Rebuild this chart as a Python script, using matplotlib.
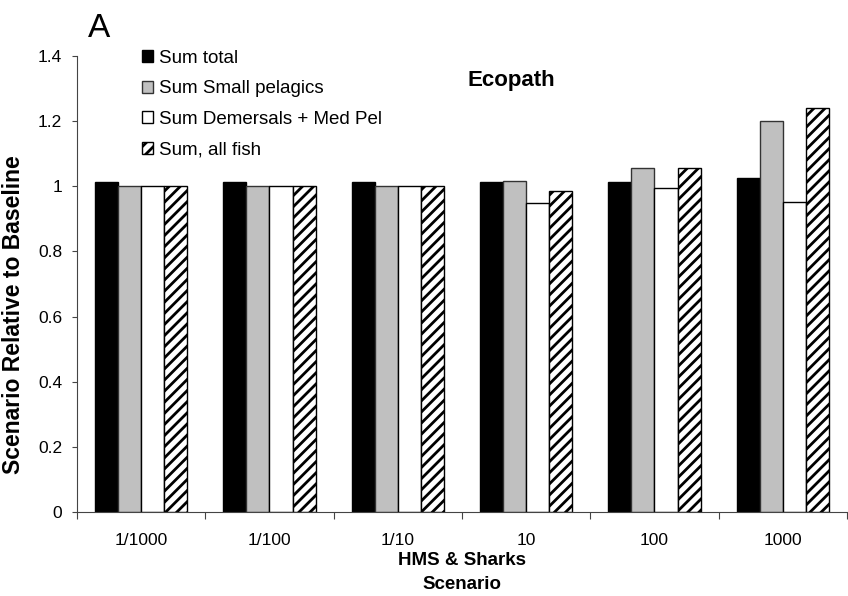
import matplotlib
matplotlib.use("Agg")
import matplotlib.pyplot as plt
import numpy as np

plt.rcParams['font.family'] = ['Liberation Sans', 'DejaVu Sans']
plt.rcParams['hatch.linewidth'] = 2.0

categories = ["1/1000", "1/100", "1/10", "10", "100", "1000"]
sum_total = [1.013, 1.013, 1.013, 1.014, 1.014, 1.026]
small_pelagics = [1.0, 1.0, 1.0, 1.017, 1.056, 1.201]
demersals_medpel = [1.0, 1.0, 1.0, 0.948, 0.996, 0.953]
all_fish = [1.0, 1.0, 1.0, 0.986, 1.056, 1.239]

series = [
    ("Sum total", sum_total, dict(color="black", edgecolor="black")),
    ("Sum Small pelagics", small_pelagics, dict(color="#C0C0C0", edgecolor="#333333")),
    ("Sum Demersals + Med Pel", demersals_medpel, dict(color="white", edgecolor="black")),
    ("Sum, all fish", all_fish, dict(color="white", edgecolor="black", hatch="///")),
]

fig = plt.figure(figsize=(8.48, 5.96), dpi=100)
ax = fig.add_axes([0.0908, 0.1409, 0.9080, 0.7651])

x = np.arange(len(categories))
w = 0.18
for i, (name, vals, st) in enumerate(series):
    ax.bar(x + (i - 1.5) * w, vals, width=w, linewidth=1.0, label=name, **st)

ax.set_xlim(-0.5, len(categories) - 0.5)
ax.set_ylim(0, 1.4)
ax.set_yticks(np.arange(0, 1.41, 0.2))
ax.set_yticklabels(["0", "0.2", "0.4", "0.6", "0.8", "1", "1.2", "1.4"])
ax.set_xticks(x)
ax.set_xticklabels(categories)
ax.set_xticks(np.arange(-0.5, len(categories), 1.0), minor=True)
ax.tick_params(axis='x', which='major', length=0, pad=15, labelsize=12.5)
ax.tick_params(axis='x', which='minor', length=5, width=0.8, color="#444444")
ax.tick_params(axis='y', length=3.6, width=0.8, color="#444444", labelsize=12.5, pad=7)
for s in ["top", "right"]:
    ax.spines[s].set_visible(False)
for s in ["left", "bottom"]:
    ax.spines[s].set_color("#444444")
    ax.spines[s].set_linewidth(0.8)

ax.set_ylabel("Scenario Relative to Baseline", fontsize=16.5, fontweight="bold")
ax.yaxis.set_label_coords(-0.067, 0.432)
ax.set_xlabel("HMS & Sharks\nScenario", fontsize=13.5, fontweight="bold", labelpad=3, linespacing=1.55)

ax.text(0.564, 0.947, "Ecopath", transform=ax.transAxes, fontsize=16, fontweight="bold", ha="center", va="center")
fig.text(0.104, 0.952, "A", fontsize=24, ha="left", va="center")

leg = ax.legend(loc="upper left", bbox_to_anchor=(0.075, 1.03), frameon=False, fontsize=13.5,
                handlelength=0.6, handleheight=0.6, handletextpad=0.3, labelspacing=0.72,
                borderaxespad=0)

fig.savefig("out.png", dpi=100)
